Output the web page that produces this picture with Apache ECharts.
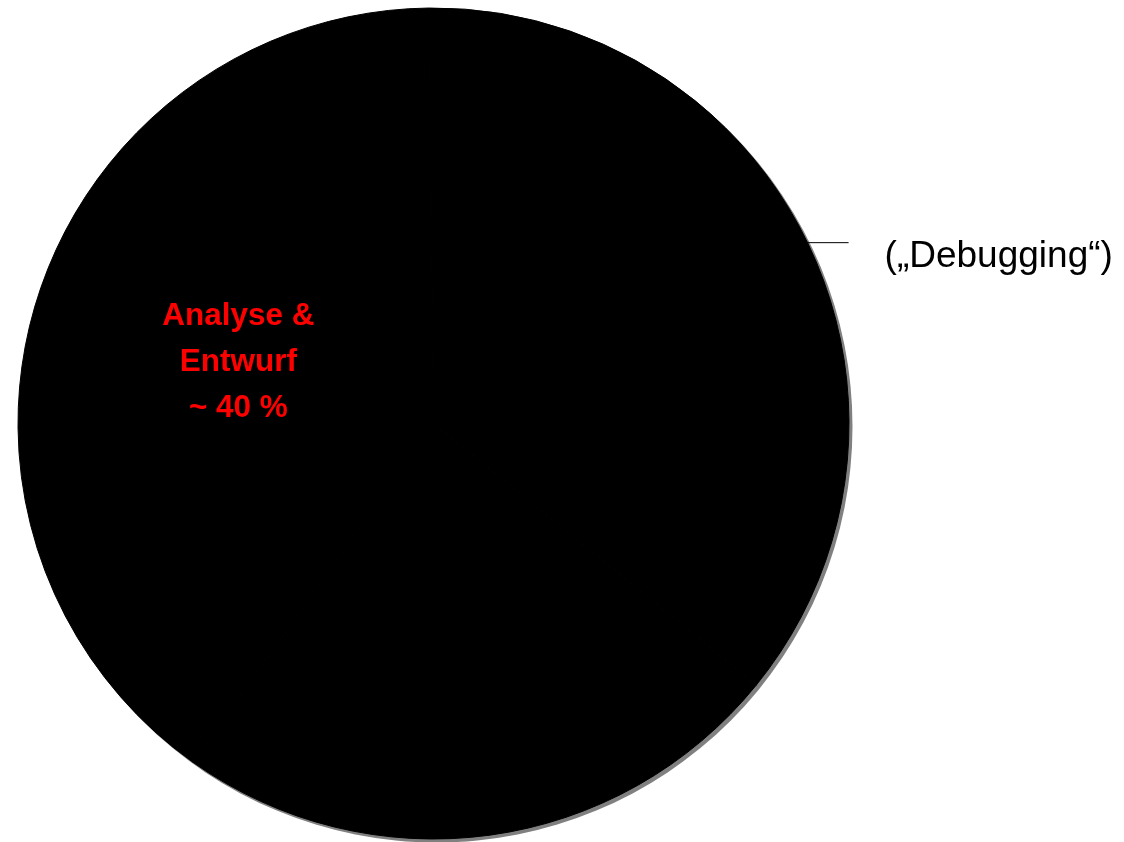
<!DOCTYPE html>
<html>
<head>
<meta charset="utf-8">
<style>
  html, body { margin: 0; padding: 0; background: #ffffff; }
  #chart { width: 1124px; height: 842px; }
</style>
<script src="https://cdn.jsdelivr.net/npm/echarts@6/dist/echarts.min.js"></script>
</head>
<body>
<div id="chart"></div>
<script>
// Phases of software development (estimated shares, %)
const categories = ['Analyse & Entwurf', 'Codierung', 'Test'];
const shares = [40, 24, 36];
const labels = ['Analyse &\nEntwurf\n~ 40 %', '', '(„Debugging“)'];

const chart = echarts.init(document.getElementById('chart'), null, { renderer: 'canvas' });

const FONT = 'Liberation Sans, Arial, sans-serif';

const data = categories.map(function (name, i) {
  const item = { name: name, value: shares[i] };
  if (i === 0) {
    item.label = {
      show: true,
      position: 'inside',
      formatter: labels[i],
      color: '#ff0000',
      fontWeight: 'bold',
      fontSize: 31.5,
      lineHeight: 46,
      fontFamily: FONT
    };
    item.labelLine = { show: false };
  } else if (labels[i]) {
    item.label = {
      show: true,
      position: 'outside',
      formatter: '{gap|}\n{t|' + labels[i] + '}',
      distanceToLabelLine: 36,
      rich: {
        gap: { lineHeight: 28, fontSize: 10 },
        t: { color: '#000000', fontSize: 37, lineHeight: 42, fontFamily: FONT }
      }
    };
    item.labelLine = {
      show: true,
      length: 0,
      length2: 41,
      lineStyle: { color: '#000000', width: 1 }
    };
  } else {
    item.label = { show: false };
    item.labelLine = { show: false };
  }
  return item;
});

const total = shares.reduce(function (a, b) { return a + b; }, 0);

chart.setOption({
  backgroundColor: '#ffffff',
  animation: false,
  series: [{
    // drop shadow of the whole pie
    type: 'pie',
    silent: true,
    z: 1,
    center: [436.5, 426.5],
    radius: 416,
    label: { show: false },
    labelLine: { show: false },
    itemStyle: { color: '#808080', borderWidth: 0 },
    emphasis: { disabled: true },
    data: [{ name: 'Summe', value: total }]
  }, {
    type: 'pie',
    z: 2,
    center: [433.5, 423.5],
    radius: 415.5,
    startAngle: 90.6,
    clockwise: false,
    avoidLabelOverlap: false,
    itemStyle: {
      color: '#000000',
      borderColor: '#000000',
      borderWidth: 1
    },
    labelLayout: function (params) {
      return params.dataIndex === 0 ? { dx: 6, dy: 2 } : {};
    },
    emphasis: { disabled: true },
    data: data
  }]
});
</script>
</body>
</html>
